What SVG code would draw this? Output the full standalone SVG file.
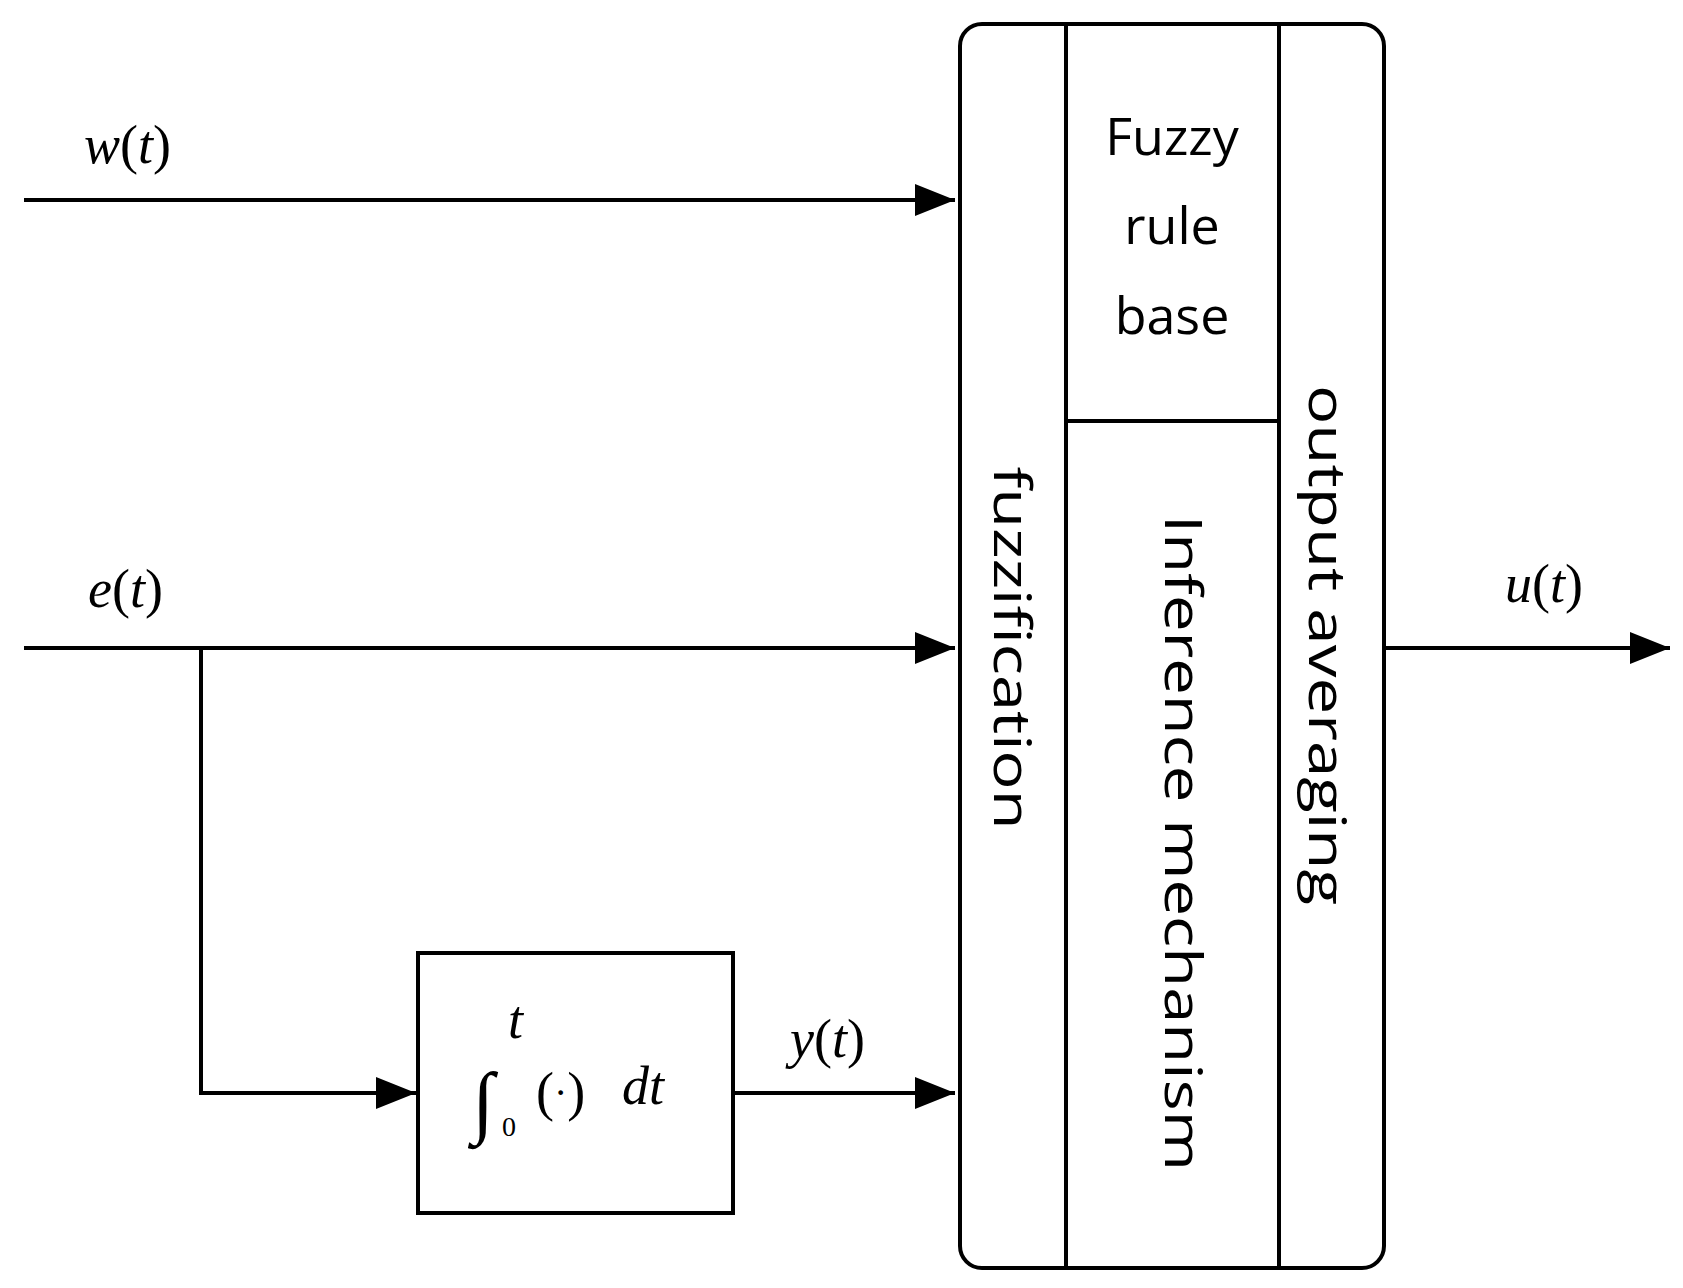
<svg xmlns="http://www.w3.org/2000/svg" width="1683" height="1288" viewBox="0 0 1683 1288">
<style>
.ln{stroke:#000;stroke-width:4;fill:none}
.box{stroke:#000;stroke-width:4;fill:#fff}
.m{font-family:"Liberation Serif",serif;font-style:italic;font-size:54px}
.mu{font-family:"Liberation Serif",serif;font-size:54px}
.s{font-family:"Open Sans","DejaVu Sans",sans-serif;font-size:52px}
</style>
<defs><marker id="a" markerWidth="10" markerHeight="8" refX="10" refY="4" orient="auto" markerUnits="strokeWidth"><path d="M0,0L10,4L0,8z" fill="#000"/></marker></defs>
<rect width="1683" height="1288" fill="#fff"/>
<g id="connectors">
<path class="ln" d="M24,200H955" marker-end="url(#a)"/>
<path class="ln" d="M24,648H955" marker-end="url(#a)"/>
<path class="ln" d="M201,648V1093H416" marker-end="url(#a)"/>
<path class="ln" d="M733,1093H955" marker-end="url(#a)"/>
<path class="ln" d="M1384,648H1670" marker-end="url(#a)"/>
</g>
<g id="labels">
<text class="m" x="84" y="163">w<tspan class="mu" font-style="normal">(</tspan>t<tspan font-style="normal">)</tspan></text>
<text class="m" x="88" y="607">e<tspan font-style="normal">(</tspan>t<tspan font-style="normal">)</tspan></text>
<text class="m" x="790" y="1057">y<tspan font-style="normal">(</tspan>t<tspan font-style="normal">)</tspan></text>
<text class="m" x="1505" y="602">u<tspan font-style="normal">(</tspan>t<tspan font-style="normal">)</tspan></text>
</g>
<g id="integrator">
<rect class="box" x="418" y="953" width="315" height="260"/>
<text font-family="Liberation Serif,serif" font-size="80" x="472" y="1128">∫</text>
<text class="m" font-size="26" x="508" y="1038">t</text>
<text font-family="Liberation Serif,serif" font-size="28" x="502" y="1136">0</text>
<text class="mu" font-size="60" x="536" y="1110">(<tspan font-size="40" dy="-4">·</tspan><tspan dy="4">)</tspan></text>
<text class="m" font-size="56" x="622" y="1104">dt</text>
</g>
<g id="fuzzy-controller">
<rect class="box" x="960" y="24" width="424" height="1244" rx="22"/>
<path class="ln" d="M1066,24V1268M1279,24V1268M1066,421H1279"/>
</g>
<g id="fuzzification">
<text class="s" transform="translate(994,648) rotate(90)" text-anchor="middle" textLength="363" lengthAdjust="spacingAndGlyphs">fuzzification</text>
</g>
<g id="rule-base">
<text class="s" x="1172" y="155" text-anchor="middle">Fuzzy</text>
<text class="s" x="1172" y="244" text-anchor="middle">rule</text>
<text class="s" x="1172" y="334" text-anchor="middle">base</text>
</g>
<g id="inference">
<text class="s" transform="translate(1165,843) rotate(90)" text-anchor="middle" textLength="656" lengthAdjust="spacingAndGlyphs">Inference mechanism</text>
</g>
<g id="output-averaging">
<text class="s" transform="translate(1309,645) rotate(90)" text-anchor="middle" textLength="520" lengthAdjust="spacingAndGlyphs">output averaging</text>
</g>
</svg>
